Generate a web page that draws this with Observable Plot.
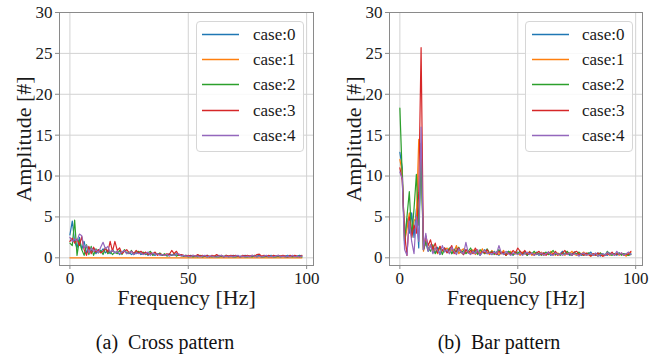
<!DOCTYPE html>
<html><head><meta charset="utf-8">
<script src="https://cdn.jsdelivr.net/npm/d3@7"></script>
<script src="https://cdn.jsdelivr.net/npm/@observablehq/plot@0.6"></script>
<style>
body{margin:0;background:#fff;font-family:"Liberation Serif","Times New Roman",Times,serif;}
#wrap{position:relative;width:664px;height:358px;overflow:hidden;background:#fff;}
.panel{position:absolute;top:0;}
.legend{position:absolute;border:1px solid #d6d6d6;border-radius:4px;background:rgba(255,255,255,0.85);box-sizing:border-box;}
.lg-text{position:absolute;font-size:17px;line-height:17px;color:#1a1a1a;white-space:pre;font-family:"Liberation Serif","Times New Roman",serif;}
.caption{position:absolute;font-size:20px;line-height:20px;white-space:pre;transform:translateX(-50%);color:#111;font-family:"Liberation Serif","Times New Roman",serif;}
svg.lg-svg{position:absolute;left:0;top:0;pointer-events:none;}
</style></head><body><div id="wrap"></div><script>
// ---- data ----
const caseNames = ["case:0", "case:1", "case:2", "case:3", "case:4"];
const caseColors = ["#1f77b4", "#ff7f0e", "#2ca02c", "#d62728", "#9467bd"];
const xTicks = [0, 50, 100];
const yTicks = [0, 5, 10, 15, 20, 25, 30];
const freqs = d3.range(0, 99); // 0..98 Hz
const captions = ["(a)  Cross pattern", "(b)  Bar pattern"];

// (a) Cross pattern
const crossCase0 = [2.8,4.5,2.0,1.2,2.5,1.0,2.0,0.6,1.3,0.8, 1.2,0.5,1.0,0.7,1.1,0.6,0.9,0.5,1.0,0.6,
 0.8,0.4,0.7,0.9,0.5,0.7,0.4,0.6,0.5,0.7, 0.4,0.5,0.6,0.3,0.5,0.4,0.3,0.5,0.4,0.3,
 0.4,0.3,0.5,0.3,0.4,0.5,0.3,0.4,0.2,0.3, 0.2,0.3,0.2,0.1,0.3,0.2,0.1,0.2,0.3,0.1,
 0.2,0.1,0.2,0.3,0.1,0.2,0.1,0.2,0.1,0.3, 0.2,0.1,0.2,0.1,0.3,0.2,0.1,0.2,0.1,0.2,
 0.3,0.1,0.2,0.1,0.2,0.3,0.1,0.2,0.1,0.2, 0.1,0.2,0.3,0.1,0.2,0.1,0.2,0.3,0.2];
const crossCase1 = [0,0,0,0,0,0,0,0,0,0, 0,0,0,0,0,0,0,0,0,0, 0,0,0,0,0,0,0,0,0,0, 0,0,0,0,0,0,0,0,0,0,
 0,0,0,0,0,0,0,0,0,0, 0,0,0,0,0,0,0,0,0,0, 0,0,0,0,0,0,0,0,0,0, 0,0,0,0,0,0,0,0,0,0,
 0,0,0,0,0,0,0,0,0,0, 0,0,0,0,0,0,0,0,0];
const crossCase2 = [1.8,1.5,4.6,0.3,2.2,1.0,0.3,1.6,0.4,1.4, 0.3,1.1,0.6,0.9,0.4,1.2,0.5,0.8,0.4,0.7,
 0.5,0.9,0.4,1.0,0.6,0.5,0.9,0.4,0.7,0.8, 0.5,0.7,0.4,0.6,0.8,0.3,0.5,0.4,0.6,0.3,
 0.5,0.2,0.4,0.3,0.5,0.2,0.4,0.3,0.2,0.3, 0.1,0.2,0.1,0.2,0.1,0.3,0.1,0.2,0.1,0.2,
 0.1,0.2,0.1,0.1,0.2,0.1,0.3,0.1,0.2,0.1, 0.1,0.2,0.1,0.2,0.1,0.1,0.2,0.1,0.3,0.1,
 0.2,0.1,0.1,0.2,0.1,0.2,0.1,0.1,0.2,0.1, 0.2,0.1,0.1,0.2,0.1,0.2,0.1,0.2,0.1];
const crossCase3 = [2.0,2.4,1.8,2.3,1.5,2.6,1.0,0.3,1.4,0.5, 1.3,0.7,1.0,0.6,0.8,1.2,0.7,2.0,0.8,2.0,
 0.9,1.2,0.5,0.8,1.0,0.6,0.8,0.5,0.9,0.6, 0.8,0.5,0.7,0.4,0.6,0.5,0.7,0.3,0.5,0.4,
 0.3,0.5,0.4,0.9,0.5,0.8,0.3,0.4,0.3,0.2, 0.3,0.2,0.3,0.2,0.4,0.2,0.3,0.2,0.3,0.1,
 0.3,0.2,0.4,0.2,0.3,0.1,0.3,0.2,0.3,0.2, 0.3,0.2,0.1,0.3,0.2,0.3,0.2,0.3,0.2,0.4,
 0.45,0.2,0.3,0.2,0.3,0.1,0.3,0.2,0.3,0.2, 0.3,0.2,0.1,0.3,0.2,0.3,0.2,0.1,0.3];
const crossCase4 = [2.5,2.0,2.3,2.1,2.9,2.7,1.2,1.5,0.6,1.2, 0.8,1.0,0.6,1.3,1.9,1.1,1.4,0.7,0.9,0.6,
 0.8,0.5,0.7,0.9,0.5,0.6,0.8,0.4,0.6,0.5, 0.6,0.4,0.5,0.7,0.3,0.6,0.4,0.5,0.3,0.4,
 0.3,0.4,0.2,0.4,0.3,0.4,0.5,0.2,0.3,0.2, 0.2,0.1,0.3,0.2,0.2,0.1,0.2,0.3,0.1,0.2,
 0.2,0.1,0.1,0.2,0.3,0.1,0.2,0.1,0.2,0.1, 0.2,0.3,0.1,0.2,0.1,0.2,0.1,0.3,0.2,0.1,
 0.2,0.1,0.2,0.3,0.1,0.2,0.1,0.2,0.3,0.1, 0.2,0.1,0.2,0.1,0.3,0.1,0.2,0.1,0.2];

// (b) Bar pattern
const barCase0 = [12.9,11.0,1.5,4.8,3.0,5.5,2.5,6.0,1.2,14.0, 1.0,1.8,0.8,1.5,1.0,0.6,1.3,0.4,0.9,1.2,
 0.7,1.1,0.5,0.9,1.3,0.6,0.8,0.4,1.0,0.7, 0.5,0.9,0.6,0.8,0.3,0.7,1.0,0.5,0.6,0.4,
 0.8,0.5,0.3,0.7,0.6,0.4,0.8,0.5,0.3,0.6, 0.7,0.4,0.5,0.8,0.3,0.6,0.5,0.4,0.7,0.3,
 0.5,0.6,0.4,0.7,0.3,0.5,0.6,0.4,0.5,0.8, 0.4,0.6,0.3,0.5,0.7,0.4,0.5,0.3,0.6,0.4,
 0.5,0.7,0.3,0.4,0.6,0.2,0.5,0.4,0.3,0.6, 0.4,0.5,0.3,0.6,0.4,0.5,0.3,0.4,0.5];
const barCase1 = [12.0,10.5,2.0,3.5,5.5,3.0,4.5,5.0,14.5,13.0, 0.8,2.2,1.0,1.6,0.7,1.2,0.5,1.4,0.8,1.0,
 1.2,0.6,1.0,0.8,1.5,0.5,0.9,1.1,0.6,0.8, 0.6,1.0,0.4,0.8,0.6,1.1,0.5,0.7,0.4,0.9,
 0.5,0.7,0.4,0.6,0.9,0.3,0.6,0.8,0.4,0.5, 0.6,0.3,0.7,0.5,0.4,0.8,0.3,0.6,0.5,0.4,
 0.7,0.3,0.5,0.4,0.8,0.5,0.3,0.6,0.4,0.5, 0.3,0.6,0.5,0.8,0.4,0.3,0.6,0.5,0.7,0.3,
 0.4,0.2,0.5,0.3,0.4,0.6,0.2,0.4,0.5,0.3, 0.5,0.4,0.6,0.3,0.5,0.4,0.2,0.6,0.7];
const barCase2 = [18.3,10.0,2.0,5.0,8.1,2.5,6.0,10.2,4.0,12.0, 1.0,2.0,1.2,0.8,1.6,0.5,1.0,1.3,0.4,1.1,
 0.8,1.2,0.5,1.0,0.7,1.3,0.6,0.9,0.5,0.8, 1.2,0.6,0.9,0.4,1.0,0.7,0.5,1.1,0.6,0.8,
 0.4,0.7,1.0,0.5,0.6,0.3,0.8,0.6,0.4,0.7, 0.5,0.8,0.4,0.6,0.3,0.7,0.5,0.8,0.4,0.6,
 0.3,0.5,0.7,0.4,0.6,0.9,0.4,0.5,0.3,0.6, 0.5,0.8,0.4,0.3,0.6,0.5,0.7,0.4,0.3,0.5,
 0.6,0.3,0.4,0.5,0.2,0.6,0.4,0.3,0.8,0.4, 0.3,0.5,0.4,0.6,0.3,0.5,0.4,0.3,0.4];
const barCase3 = [11.0,9.5,3.0,0.3,5.0,2.5,4.0,3.0,8.0,25.7, 1.0,2.7,1.5,2.2,1.0,1.8,0.6,1.4,0.9,1.2,
 0.6,1.0,1.5,0.5,0.9,1.2,0.7,0.4,1.0,0.6, 0.9,0.5,1.2,0.7,0.4,0.8,0.6,1.0,0.5,0.7,
 0.6,0.4,0.8,0.5,0.7,0.3,0.6,0.4,0.9,0.6, 1.2,0.8,0.5,0.9,0.4,0.7,0.5,0.3,0.6,0.8,
 0.4,0.6,0.3,0.7,0.5,0.4,0.8,0.3,0.5,0.6, 0.9,0.4,0.6,0.3,0.7,0.8,0.4,0.5,0.3,0.6,
 0.4,0.2,0.5,0.3,0.6,0.4,0.2,0.3,0.5,0.4, 0.7,0.3,0.5,0.4,0.6,0.3,0.5,0.4,0.8];
const barCase4 = [10.5,9.7,1.0,0.3,4.5,2.0,0.5,5.0,2.0,16.0, 1.0,3.0,0.8,1.6,0.5,1.2,0.9,0.4,1.5,0.7,
 1.0,0.5,1.3,0.8,0.4,1.1,0.7,0.5,1.9,0.6, 0.4,0.8,0.5,1.0,0.3,0.7,0.9,0.5,0.6,0.4,
 0.7,0.5,1.5,0.6,0.4,0.8,0.5,0.3,0.6,0.5, 0.4,0.6,0.3,0.5,0.7,0.4,0.6,0.3,0.5,0.4,
 0.6,0.3,0.5,0.7,0.4,0.3,0.6,0.4,0.5,0.3, 0.5,0.4,0.6,0.3,0.5,0.4,0.2,0.5,0.6,0.3,
 0.4,0.5,0.3,0.6,0.2,0.4,0.5,0.3,0.7,0.4, 0.5,0.3,0.8,0.4,0.6,0.3,0.5,0.7,0.4];

const crossSeries = [crossCase0, crossCase1, crossCase2, crossCase3, crossCase4];
const barSeries = [barCase0, barCase1, barCase2, barCase3, barCase4];

// ---- drawing ----
const wrap = document.getElementById("wrap");
const H = 318, MT = 12, MB = 53;
const FONT = "'Liberation Serif', 'Times New Roman', Times, serif";

function makePanel(series, left, width, mL, mR) {
  const rows = [];
  series.forEach((vals, i) => vals.forEach((v, j) => rows.push({f: freqs[j], amp: v, c: caseNames[i]})));
  const chart = Plot.plot({
    width, height: H, marginLeft: mL, marginRight: mR, marginTop: MT, marginBottom: MB,
    x: {domain: [-4.4, 102.9]},
    y: {domain: [-0.94, 30]},
    color: {domain: caseNames, range: caseColors},
    style: {fontFamily: FONT, fontSize: "17px", color: "#1a1a1a", background: "transparent"},
    marks: [
      Plot.gridX({ticks: xTicks, stroke: "#d2d2d2", strokeOpacity: 1, strokeWidth: 1}),
      Plot.gridY({ticks: yTicks, stroke: "#d2d2d2", strokeOpacity: 1, strokeWidth: 1}),
      Plot.lineY(rows, {x: "f", y: "amp", z: "c", stroke: "c", strokeWidth: 1.2}),
      Plot.frame({stroke: "#8a8a8a", strokeWidth: 1}),
      Plot.axisX({ticks: xTicks, tickSize: 4, tickPadding: 2, fontSize: 17, label: null, stroke: "#8a8a8a", fill: "#1a1a1a"}),
      Plot.axisY({ticks: yTicks, tickSize: 4, tickPadding: 3, fontSize: 17, label: null, stroke: "#8a8a8a", fill: "#1a1a1a"}),
      Plot.text(["Amplitude [#]"], {frameAnchor: "left", rotate: -90, dx: -36, textAnchor: "middle", lineAnchor: "middle", fontSize: 22, fill: "#1a1a1a"}),
      Plot.text(["Frequency [Hz]"], {frameAnchor: "bottom", dy: 32.5, textAnchor: "middle", lineAnchor: "middle", fontSize: 22, fill: "#1a1a1a"})
    ]
  });
  chart.classList.add("panel");
  chart.style.left = left + "px";
  wrap.appendChild(chart);
}

// legend swatch lines drawn in one overlay svg
const NS = "http://www.w3.org/2000/svg";
const lgSvg = document.createElementNS(NS, "svg");
lgSvg.setAttribute("class", "lg-svg");
lgSvg.setAttribute("width", 664);
lgSvg.setAttribute("height", 358);

function makeLegend(boxX, boxY, boxW, boxH, lineX, lineLen, textX) {
  const lg = document.createElement("div");
  lg.className = "legend";
  Object.assign(lg.style, {left: boxX + "px", top: boxY + "px", width: boxW + "px", height: boxH + "px"});
  wrap.appendChild(lg);
  caseNames.forEach((name, i) => {
    const cy = Math.round(33.7 + i * 25.3) + 0.5;
    const ln = document.createElementNS(NS, "line");
    ln.setAttribute("x1", lineX); ln.setAttribute("x2", lineX + lineLen);
    ln.setAttribute("y1", cy); ln.setAttribute("y2", cy);
    ln.setAttribute("stroke", caseColors[i]);
    ln.setAttribute("stroke-width", 1.4);
    lgSvg.appendChild(ln);
    const tx = document.createElement("div");
    tx.className = "lg-text";
    tx.textContent = name;
    Object.assign(tx.style, {left: textX + "px", top: (cy - 9) + "px"});
    wrap.appendChild(tx);
  });
}

function makeCaption(text, cx, cy) {
  const c = document.createElement("div");
  c.className = "caption";
  c.textContent = text;
  Object.assign(c.style, {left: cx + "px", top: (cy - 10) + "px"});
  wrap.appendChild(c);
}

makePanel(crossSeries, 0, 330, 59, 17);
makePanel(barSeries, 330, 334, 59, 22);
makeLegend(196, 21, 108, 131, 202, 37, 253);
makeLegend(525, 21, 108, 131, 532, 37, 582);
wrap.appendChild(lgSvg);
makeCaption(captions[0], 165, 342);
makeCaption(captions[1], 499, 342);
</script></body></html>
